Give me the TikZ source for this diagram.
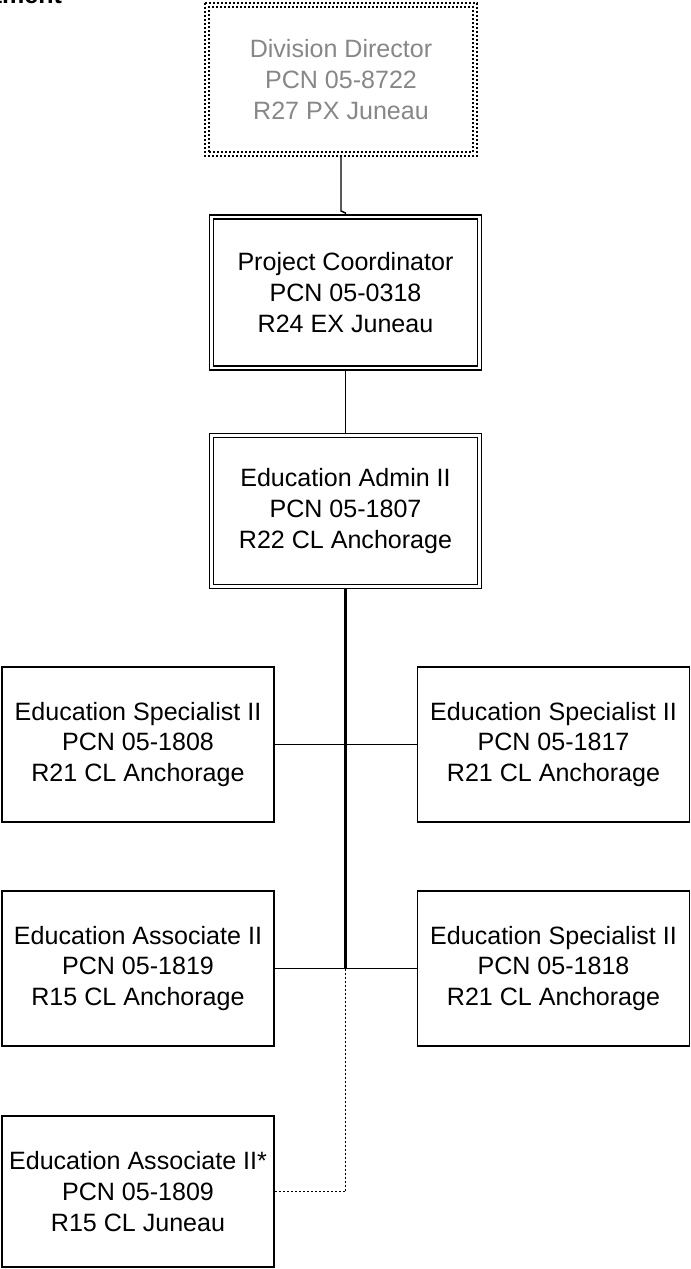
\documentclass[tikz,border=0pt]{standalone}
\usepackage{fontspec}
\setmainfont{Liberation Sans}
\definecolor{ddgray}{RGB}{135,135,135}
\begin{document}
\begin{tikzpicture}[x=0.75pt,y=0.75pt,
  every node/.style={font=\fontsize{18.8pt}{23pt}\selectfont, align=center, inner sep=0pt, outer sep=0pt},
  dots/.style={dash pattern=on 1.5pt off 1.5pt},
  dbox/.style={draw, double, line width=1pt, double distance=2pt, minimum width=201.4pt, minimum height=113.25pt, outer sep=2pt},
  sbox/.style={draw, line width=1.3pt, minimum width=204pt, minimum height=116.25pt, outer sep=0.65pt},
  ddbox/.style={draw, dots, line width=1.1pt, minimum width=198pt, minimum height=108.75pt, text=ddgray},
  link/.style={line width=1.1pt},
]
\useasboundingbox (0,0) rectangle (690,-1269);
\clip (0,0) rectangle (690,-1269);

\node[font=\bfseries\fontsize{18.8pt}{23pt}\selectfont, anchor=base east] (title) at (62,-4) {Department};

\node[ddbox] (dd) at (341,-79.5) {Division Director\\PCN 05-8722\\R27 PX Juneau};
\draw[dots, line width=1.1pt] ([shift={(-4,4)}]dd.north west) rectangle ([shift={(4,-4)}]dd.south east);

\node[dbox] (pc) at (345.5,-292.5) {Project Coordinator\\PCN 05-0318\\R24 EX Juneau};
\node[dbox] (ea) at (345.5,-511) {Education Admin II\\PCN 05-1807\\R22 CL Anchorage};

\node[sbox] (es1) at (138,-744.5) {Education Specialist II\\PCN 05-1808\\R21 CL Anchorage};
\node[sbox] (es2) at (553.5,-744.5) {Education Specialist II\\PCN 05-1817\\R21 CL Anchorage};
\node[sbox] (ea1) at (138,-968.5) {Education Associate II\\PCN 05-1819\\R15 CL Anchorage};
\node[sbox] (es3) at (553.5,-968.5) {Education Specialist II\\PCN 05-1818\\R21 CL Anchorage};
\node[sbox, minimum height=113.25pt] (ea2) at (138,-1191.5) {Education Associate II*\\PCN 05-1809\\R15 CL Juneau};

\coordinate (k1) at (341,-211);
\coordinate (k2) at (345.5,-213);
\draw[link] ([yshift=-3pt]dd.south) -- (k1) -- (k2) -- (pc.north);
\draw[link] (pc.south) -- (ea.north);

\coordinate (j2) at (ea.south |- ea1.east);
\coordinate (j3) at (ea.south |- ea2.east);
\draw[line width=1.6pt] (ea.south) -- (j2);
\draw[link] (es1.east) -- (es2.west);
\draw[link] (ea1.east) -- (es3.west);
\draw[link, dots] (j2) -- (j3) -- (ea2.east);
\end{tikzpicture}
\end{document}
